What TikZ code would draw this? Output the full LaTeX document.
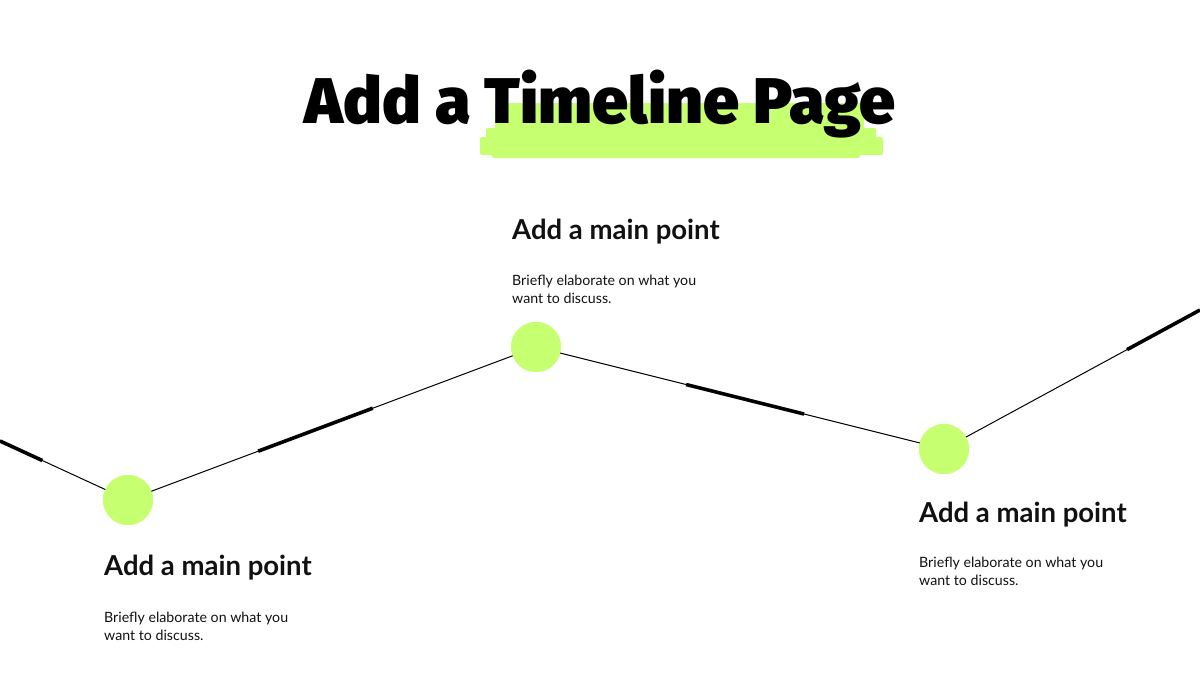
\documentclass[tikz,border=0pt]{standalone}
\usepackage{fontspec}
\setmainfont{Lato}
\newfontfamily\titlefont{Fira Sans Black}
\usetikzlibrary{calc}
\definecolor{lime}{HTML}{C6FF70}
\definecolor{ink}{HTML}{111111}
\tikzset{
  dot/.style={circle, fill=lime, minimum size=50pt, inner sep=0pt},
  thinline/.style={draw=black, line width=1pt},
  thickline/.style={draw=black, line width=3.6pt},
  heading/.style={anchor=base west, inner sep=0pt, font=\fontsize{27.5}{32}\selectfont\bfseries, text=ink},
  body/.style={anchor=base west, inner sep=0pt, align=left, font=\fontsize{14.2}{18}\selectfont, text=ink},
  brush/.style={fill=lime, rounded corners=2pt}
}
\begin{document}
\begin{tikzpicture}[x=1pt,y=-1pt]
\useasboundingbox (0,0) rectangle (1200,675);
% highlight brush
\fill[brush] (495,103) rectangle (864,135);
\fill[brush] (486,128) rectangle (876,146);
\fill[brush] (480,137) rectangle (883,155);
\fill[brush] (492,150) rectangle (860,158);
\node[anchor=base, inner sep=0pt, font=\titlefont\fontsize{64.5}{70}\selectfont] (title) at (600,123) {Add a Timeline Page};
% timeline
\coordinate (L) at (0,441);
\coordinate (R) at (1200,310);
\node[dot] (c1) at (128,500) {};
\node[dot] (c2) at (536,347) {};
\node[dot] (c3) at (944,449) {};
\draw[thinline] (L) -- (c1.center) -- (c2.center) -- (c3.center) -- (R);
\draw[thickline] (L) -- ($(L)!0.33!(c1.center)$);
\draw[thickline] ($(c1.center)!0.319!(c2.center)$) -- ($(c1.center)!0.60!(c2.center)$);
\draw[thickline] ($(c2.center)!0.368!(c3.center)$) -- ($(c2.center)!0.657!(c3.center)$);
\draw[thickline] ($(c3.center)!0.715!(R)$) -- (R);
\node[dot] at (c1) {};
\node[dot] at (c2) {};
\node[dot] at (c3) {};
% texts
\node[heading] (h1) at (104,575) {Add a main point};
\node[body] (b1) at (104,640) {Briefly elaborate on what you\\want to discuss.};
\node[heading] (h2) at (512,239) {Add a main point};
\node[body] (b2) at (512,303) {Briefly elaborate on what you\\want to discuss.};
\node[heading] (h3) at (919,522) {Add a main point};
\node[body] (b3) at (919,585) {Briefly elaborate on what you\\want to discuss.};
\end{tikzpicture}
\end{document}
